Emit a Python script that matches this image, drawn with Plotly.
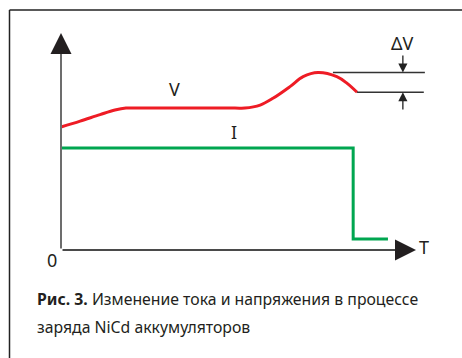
import plotly.graph_objects as go

# Зарядная кривая NiCd (условные единицы)
t_v = [0, 5.4, 11.0, 15.2, 18.3, 21.0, 49.0, 51.8, 56.1, 59.7, 64.5, 68.2, 72.4, 77.7, 80.6, 83.4]
v = [56.7, 59.4, 62.4, 64.5, 65.4, 65.4, 65.4, 65.4, 66.8, 69.9, 75.3, 79.9, 81.8, 79.9, 76.8, 72.7]

t_i = [0, 82.3, 82.3, 92.1]
i_cur = [47, 47, 5.1, 5.1]

t_axis_max = 100
v_axis_max = 100

# дельта V: пик и конечная точка
v_peak = max(v)
v_end = v[-1]

W, H = 462, 358
ox, oy = 61, 250          # пиксель начала координат
kx, ky = 3.55, 2.17       # пикселей на единицу

fig = go.Figure()

fig.add_trace(go.Scatter(x=t_v, y=v, mode='lines',
                         line=dict(color='#ee1c25', width=3, shape='spline', smoothing=1.0),
                         hoverinfo='skip'))
fig.add_trace(go.Scatter(x=t_i, y=i_cur, mode='lines',
                         line=dict(color='#00a650', width=3),
                         hoverinfo='skip'))

# горизонтальные линии дельта V
fig.add_trace(go.Scatter(x=[76.6, 102.5], y=[v_peak, v_peak], mode='lines',
                         line=dict(color='#333333', width=1.3), hoverinfo='skip'))
fig.add_trace(go.Scatter(x=[t_v[-1], 102.2], y=[v_end, v_end], mode='lines',
                         line=dict(color='#333333', width=1.3), hoverinfo='skip'))

ann = []
# оси (серые линии) и тёмные наконечники
axis_kw = dict(xref='x', yref='y', axref='x', ayref='y', showarrow=True, text='')
ann.append(dict(x=0, y=v_axis_max - 4, ax=0, ay=0, arrowhead=0, arrowwidth=2,
                arrowcolor='#6d6d6d', **axis_kw))
ann.append(dict(x=t_axis_max - 3, y=0, ax=0, ay=0, arrowhead=0, arrowwidth=2,
                arrowcolor='#4a4a4a', **axis_kw))
ann.append(dict(x=0, y=v_axis_max, ax=0, ay=v_axis_max - 8, arrowhead=2, arrowsize=2.1,
                arrowwidth=2, arrowcolor='#231f20', **axis_kw))
ann.append(dict(x=t_axis_max, y=0, ax=t_axis_max - 5, ay=0, arrowhead=2, arrowsize=2.1,
                arrowwidth=2, arrowcolor='#231f20', **axis_kw))
# стрелки дельта V
ann.append(dict(x=96.3, y=v_peak, ax=96.3, ay=90.3, arrowhead=2, arrowsize=1.4,
                arrowwidth=1.3, arrowcolor='#222222', **axis_kw))
ann.append(dict(x=96.3, y=v_end, ax=96.3, ay=64.1, arrowhead=2, arrowsize=1.4,
                arrowwidth=1.3, arrowcolor='#222222', **axis_kw))

lab_font = dict(family='Noto Sans', size=18, color='#231f20')
for txt, x, y in [('V', 32.1, 74.2), ('I', 48.7, 54.4), ('ΔV', 96.3, 95.4),
                  ('T', 102.3, 1.4), ('0', -2.5, -4.6)]:
    ann.append(dict(x=x, y=y, xref='x', yref='y', text=txt, showarrow=False, font=lab_font))

cap_font = dict(family='Noto Sans', size=15.8, color='#231f20')
ann.append(dict(x=35 / W, y=1 - 299 / H, xref='paper', yref='paper', xanchor='left', yanchor='middle',
                text='<b>Рис. 3.</b> Изменение тока и напряжения в процессе',
                showarrow=False, font=cap_font))
ann.append(dict(x=35 / W, y=1 - 327 / H, xref='paper', yref='paper', xanchor='left', yanchor='middle',
                text='заряда NiCd аккумуляторов', showarrow=False, font=cap_font))

shapes = [
    dict(type='line', xref='paper', yref='paper', x0=9.5 / W, x1=1, y0=1 - 10 / H, y1=1 - 10 / H,
         line=dict(color='#222222', width=1.5)),
    dict(type='line', xref='paper', yref='paper', x0=9.5 / W, x1=9.5 / W, y0=1 - 10 / H, y1=0,
         line=dict(color='#222222', width=1.5)),
]

fig.update_layout(
    width=W, height=H, margin=dict(l=0, r=0, t=0, b=0),
    paper_bgcolor='white', plot_bgcolor='white', showlegend=False,
    xaxis=dict(range=[-ox / kx, (W - ox) / kx], visible=False, fixedrange=True),
    yaxis=dict(range=[-(H - oy) / ky, oy / ky], visible=False, fixedrange=True),
    annotations=ann, shapes=shapes,
)

fig.write_html("out.html", config={'displayModeBar': False},
               post_script="document.body.style.margin='0';document.body.style.overflow='hidden';")
